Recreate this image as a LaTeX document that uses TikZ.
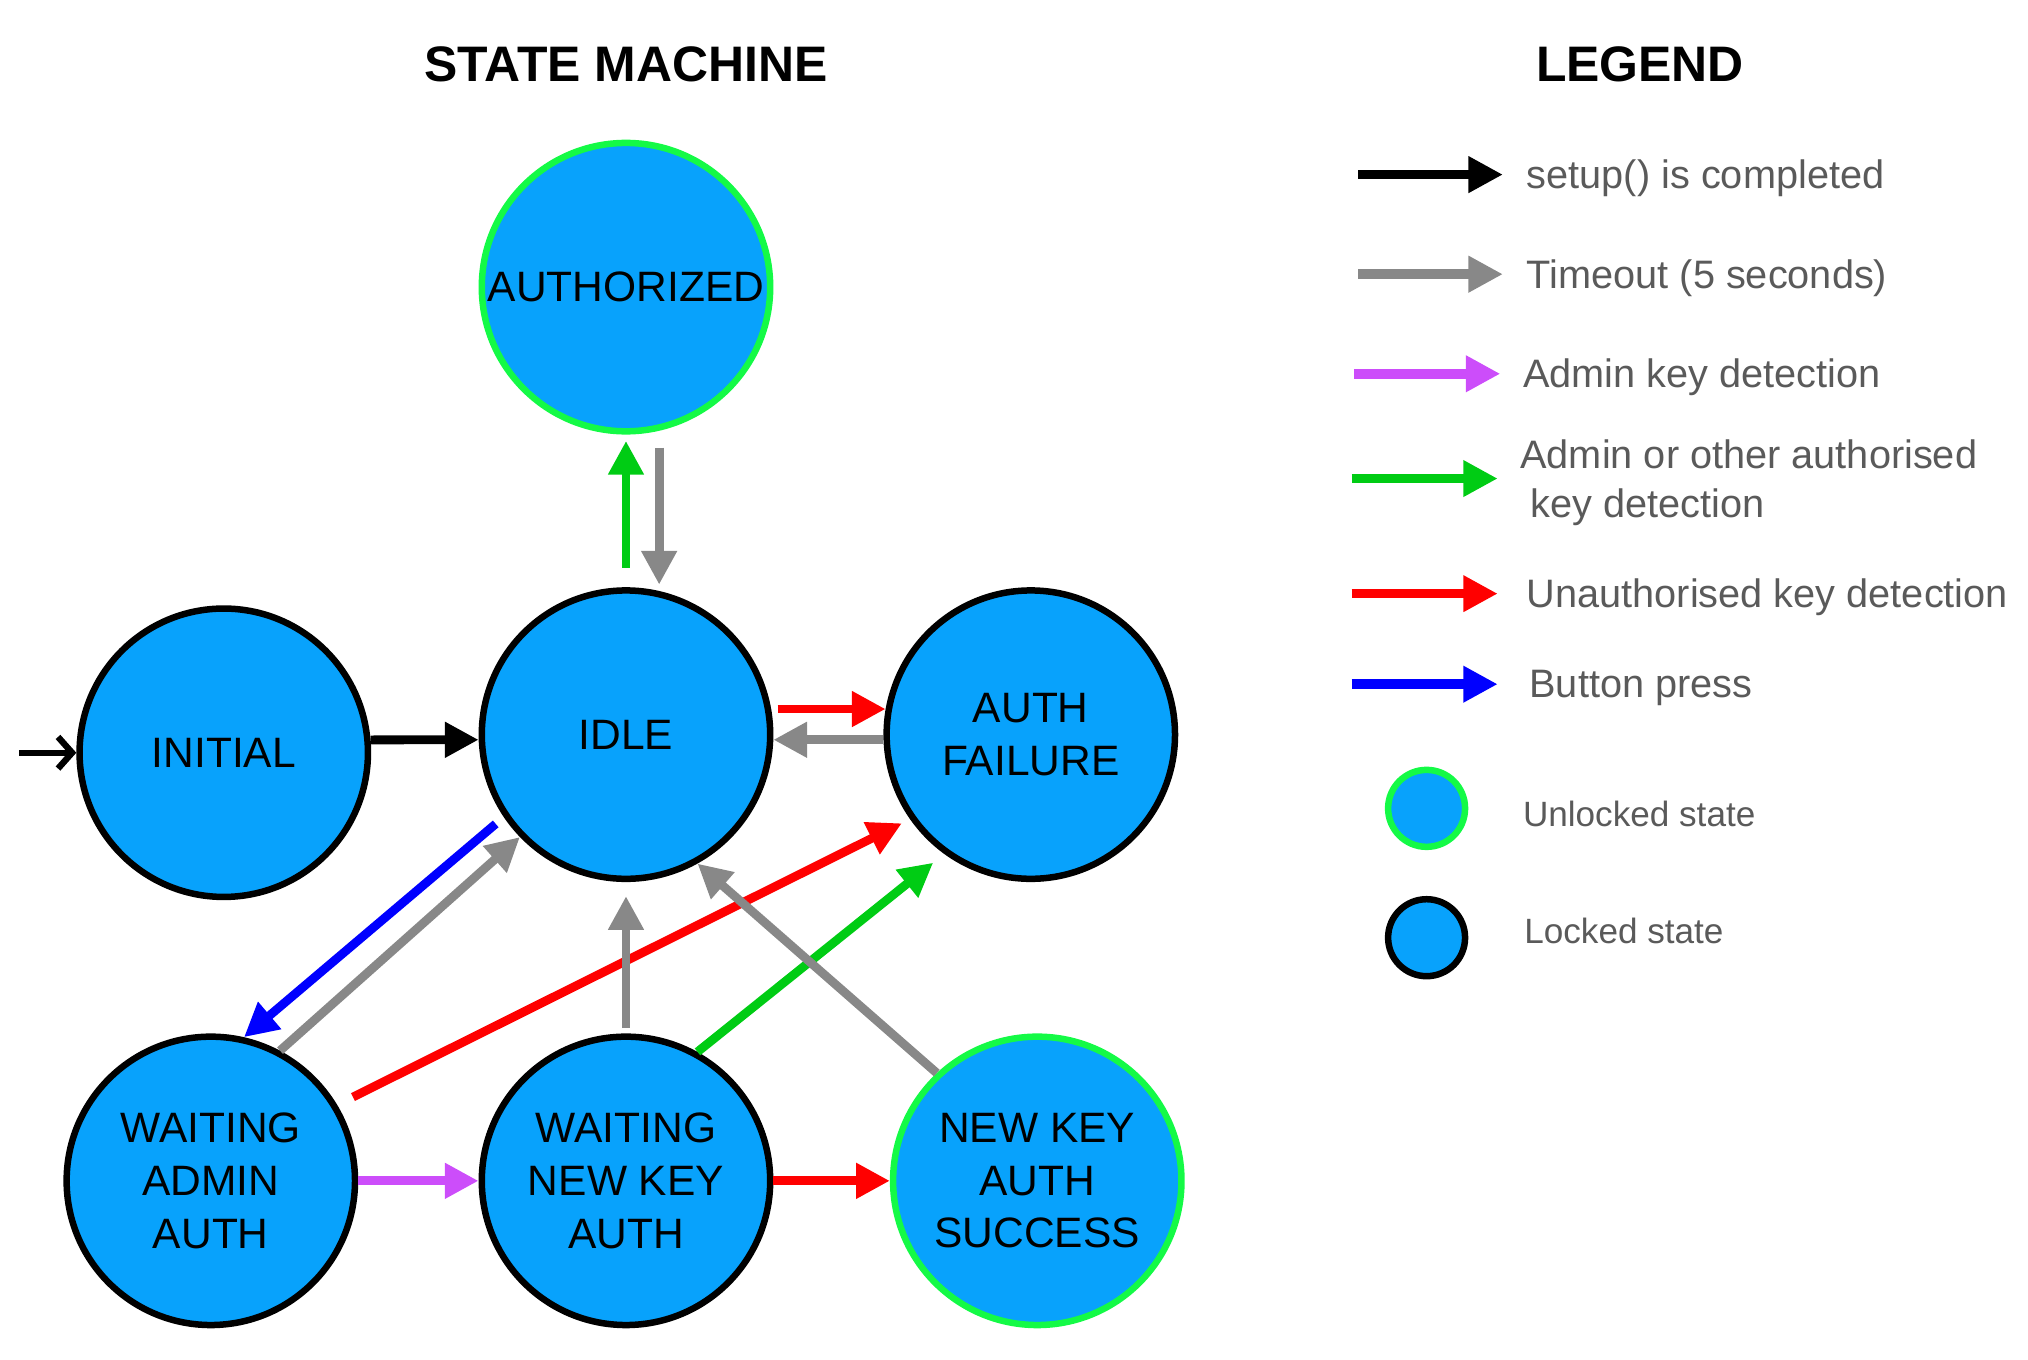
\documentclass[tikz,border=0pt]{standalone}
\usepackage{fontspec}
\setmainfont{Liberation Sans}
\usepackage{tikz}
\usetikzlibrary{arrows.meta}
\usepackage{xcolor}

\definecolor{statefill}{RGB}{8,162,252}
\definecolor{unlockgreen}{RGB}{20,250,70}
\definecolor{keygreen}{RGB}{0,204,20}
\definecolor{timegray}{RGB}{136,136,136}
\definecolor{adminpurple}{RGB}{204,77,250}
\definecolor{legendtext}{RGB}{90,90,90}

\begin{document}
\begin{tikzpicture}[x=0.012934cm,y=-0.012934cm]
    \useasboundingbox (0,0) rectangle (1568,1051.5);

    \node[font=\fontsize{14.2}{17}\selectfont\bfseries] (title) at (484,50) {STATE MACHINE};
    \node[font=\fontsize{14.2}{17}\selectfont\bfseries] (legtitle) at (1268,50) {LEGEND};

    \begin{scope}[every node/.style={circle,line width=1.85pt,draw,fill=statefill,minimum size=2.885cm,
        inner sep=0pt,align=center,font=\fontsize{12.1}{15}\selectfont}]
      \node[draw=unlockgreen] (auth) at (484,222) {AUTHORIZED};
      \node (init) at (173,582) {INITIAL};
      \node (idle) at (484,568) {IDLE};
      \node (fail) at (797,568) {AUTH\\FAILURE};
      \node (wadmin) at (163,913) {WAITING\\ADMIN\\AUTH};
      \node (wkey) at (484,913) {WAITING\\NEW KEY\\AUTH};
      \node[draw=unlockgreen] (success) at (802,913) {NEW KEY\\AUTH\\SUCCESS};
    \end{scope}

    \coordinate (start) at (15,582);
    \draw [-{Straight Barb[length=4pt,width=9pt]},line width=1.8pt] (start) -- (init.west);

    \begin{scope}[>={Triangle[length=9.6pt,width=9.6pt]},
        every edge/.style={draw,line width=2.5pt}]
      \path [->] (init.5) edge (idle.182);
      \path [->] (idle.north) edge [keygreen,shorten <=5.5pt,shorten >=1.8pt] (auth.south);
      \path [->] (auth.283) edge [timegray,shorten <=4.8pt,shorten >=1.8pt] (idle.77);
      \path [->] (idle.10) edge [red,shorten <=1.8pt] (fail.170);
      \path [->] (fail.182) edge [timegray] (idle.-2);
      \path [->] (idle.214) edge [blue,shorten <=3pt] (wadmin.77);
      \path [->] (wadmin.62) edge [timegray] (idle.224);
      \path [->] (wadmin.31) edge [red,shorten <=5pt,shorten >=2.6pt] (fail.215);
      \path [->] (wkey.north) edge [timegray,shorten <=1.5pt,shorten >=4pt] (idle.south);
      \path [->] (wkey.61) edge [keygreen,shorten >=4pt] (fail.234);
      \path [->] (success.133) edge [timegray] (idle.299);
      \path [->] (wadmin.east) edge [adminpurple] (wkey.west);
      \path [->] (wkey.east) edge [red] (success.west);
    \end{scope}

    % legend
    \coordinate (lg1) at (1050,135); \coordinate (lg1e) at (1162,135);
    \coordinate (lg2) at (1050,212); \coordinate (lg2e) at (1162,212);
    \coordinate (lg3) at (1047,289); \coordinate (lg3e) at (1160,289);
    \coordinate (lg4) at (1045,370); \coordinate (lg4e) at (1158,370);
    \coordinate (lg5) at (1045,459); \coordinate (lg5e) at (1158,459);
    \coordinate (lg6) at (1045,529); \coordinate (lg6e) at (1158,529);

    \begin{scope}[>={Triangle[length=9.8pt,width=9.8pt]},
        every edge/.style={draw,line width=2.7pt}]
      \path [->] (lg1) edge [black] (lg1e);
      \path [->] (lg2) edge [timegray] (lg2e);
      \path [->] (lg3) edge [adminpurple] (lg3e);
      \path [->] (lg4) edge [keygreen] (lg4e);
      \path [->] (lg5) edge [red] (lg5e);
      \path [->] (lg6) edge [blue] (lg6e);
    \end{scope}

    \begin{scope}[every node/.style={anchor=west,inner sep=0pt,text=legendtext,align=left,
        font=\fontsize{11.3}{14}\selectfont}]
      \node (t1) at (1180,138) {setup() is completed};
      \node (t2) at (1180,215) {Timeout (5 seconds)};
      \node (t3) at (1177,292) {Admin key detection};
      \node (t4) at (1175,373) {Admin or other authorised\\\hspace*{3pt}key detection};
      \node (t5) at (1180,462) {Unauthorised key detection};
      \node (t6) at (1182,532) {Button press};
      \node[font=\fontsize{10}{12}\selectfont] (t7) at (1177,629) {Unlocked state};
      \node[font=\fontsize{10}{12}\selectfont] (t8) at (1178,720) {Locked state};
    \end{scope}

    \begin{scope}[every node/.style={circle,line width=1.85pt,draw,fill=statefill,minimum size=0.77cm,inner sep=0pt}]
      \node[draw=unlockgreen] (unlocked) at (1103,625) {};
      \node (locked) at (1103,725) {};
    \end{scope}
\end{tikzpicture}
\end{document}
